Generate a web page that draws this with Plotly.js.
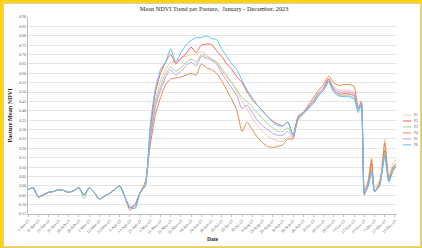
<!DOCTYPE html>
<html><head><meta charset="utf-8">
<script src="https://cdn.plot.ly/plotly-3.0.1.min.js"></script>
<style>
html,body{margin:0;padding:0;background:#FFD400;width:422px;height:248px;overflow:hidden;}
#frame{position:absolute;left:3px;top:3px;width:416px;height:242px;border:1px solid #D0D0D0;background:#fff;}
#chart{position:absolute;left:0;top:0;width:416px;height:242px;}
</style></head><body><div id="frame"><div id="chart"></div></div>
<script>
const dates = ['2023-01-01','2023-01-06','2023-01-11','2023-01-16','2023-01-21','2023-01-26','2023-01-31','2023-02-05','2023-02-10','2023-02-15','2023-02-20','2023-02-25','2023-03-02','2023-03-07','2023-03-12','2023-03-17','2023-03-22','2023-03-27','2023-04-01','2023-04-06','2023-04-11','2023-04-16','2023-04-21','2023-04-26',
'2023-05-01','2023-05-06','2023-05-11','2023-05-16','2023-05-21','2023-05-26','2023-05-31','2023-06-05','2023-06-10','2023-06-15','2023-06-20','2023-06-25','2023-06-30','2023-07-05','2023-07-10','2023-07-15','2023-07-20','2023-07-25','2023-07-30','2023-08-04','2023-08-09','2023-08-14','2023-08-19','2023-08-24','2023-08-29','2023-09-03','2023-09-08','2023-09-13','2023-09-18','2023-09-23','2023-09-28','2023-10-03','2023-10-08','2023-10-13','2023-10-18','2023-10-23','2023-10-28','2023-11-02','2023-11-07','2023-11-12','2023-11-17',
'2023-11-21','2023-11-24','2023-11-27','2023-12-01','2023-12-04','2023-12-07','2023-12-12','2023-12-14','2023-12-17','2023-12-21','2023-12-25','2023-12-28'];

const P1 = [-0.02,-0.01,-0.06,-0.05,-0.035,-0.03,-0.02,-0.025,-0.035,-0.025,-0.01,-0.05,-0.01,-0.035,-0.07,-0.055,-0.04,-0.02,0.00,-0.06,-0.115,-0.10,-0.035,0.01,
0.28,0.46,0.56,0.62,0.66,0.66,0.68,0.69,0.70,0.70,0.715,0.70,0.67,0.66,0.63,0.59,0.55,0.50,0.45,0.41,0.36,0.32,0.29,0.265,0.25,0.24,0.235,0.26,0.26,0.36,0.39,0.42,0.46,0.50,0.53,0.57,0.53,0.51,0.51,0.51,0.50,
0.42,0.45,-0.03,0.04,0.15,-0.01,0.03,0.09,0.25,0.05,0.12,0.14];
const P2 = [-0.02,-0.01,-0.06,-0.045,-0.035,-0.03,-0.02,-0.025,-0.035,-0.025,-0.01,-0.05,-0.01,-0.035,-0.07,-0.055,-0.04,-0.02,0.00,-0.06,-0.115,-0.12,-0.035,0.00,
0.30,0.50,0.60,0.66,0.70,0.65,0.68,0.705,0.74,0.71,0.75,0.755,0.755,0.72,0.69,0.65,0.62,0.58,0.55,0.50,0.46,0.43,0.40,0.37,0.345,0.33,0.32,0.34,0.27,0.37,0.39,0.42,0.45,0.49,0.52,0.57,0.51,0.49,0.49,0.49,0.48,
0.41,0.44,-0.04,0.02,0.12,-0.03,0.01,0.07,0.19,0.03,0.09,0.11];
const P3 = [-0.02,-0.01,-0.06,-0.05,-0.035,-0.03,-0.02,-0.025,-0.035,-0.025,-0.01,-0.07,-0.01,-0.035,-0.07,-0.055,-0.04,-0.02,0.00,-0.06,-0.115,-0.10,-0.035,0.00,
0.27,0.44,0.53,0.60,0.635,0.61,0.63,0.655,0.675,0.66,0.70,0.69,0.68,0.66,0.62,0.58,0.55,0.51,0.47,0.45,0.42,0.39,0.36,0.33,0.31,0.29,0.29,0.31,0.27,0.35,0.38,0.41,0.44,0.48,0.51,0.55,0.50,0.48,0.48,0.48,0.47,
0.40,0.43,-0.04,0.01,0.09,-0.03,0.01,0.07,0.18,0.03,0.09,0.11];
const P4 = [-0.02,-0.01,-0.06,-0.05,-0.035,-0.03,-0.02,-0.025,-0.035,-0.025,-0.01,-0.05,-0.01,-0.035,-0.07,-0.055,-0.04,-0.02,0.00,-0.06,-0.13,-0.10,-0.035,0.02,
0.22,0.38,0.47,0.54,0.57,0.575,0.58,0.59,0.60,0.59,0.65,0.63,0.62,0.60,0.56,0.51,0.46,0.40,0.29,0.34,0.30,0.26,0.23,0.21,0.205,0.21,0.22,0.25,0.25,0.37,0.39,0.43,0.47,0.51,0.54,0.585,0.55,0.535,0.54,0.54,0.53,
0.41,0.45,-0.05,0.03,0.14,-0.03,0.02,0.08,0.23,0.04,0.10,0.12];
const P5 = [-0.02,-0.01,-0.06,-0.05,-0.035,-0.03,-0.02,-0.025,-0.035,-0.025,-0.01,-0.05,-0.01,-0.035,-0.07,-0.055,-0.04,-0.02,0.00,-0.06,-0.115,-0.10,-0.035,0.00,
0.25,0.42,0.51,0.58,0.62,0.59,0.61,0.64,0.66,0.64,0.69,0.68,0.67,0.65,0.60,0.56,0.52,0.48,0.41,0.43,0.39,0.35,0.32,0.30,0.28,0.27,0.27,0.29,0.26,0.36,0.385,0.42,0.45,0.49,0.52,0.56,0.52,0.50,0.50,0.50,0.49,
0.41,0.44,-0.04,0.01,0.08,-0.03,0.00,0.06,0.16,0.02,0.08,0.10];
const P6 = [-0.02,-0.01,-0.06,-0.05,-0.035,-0.03,-0.02,-0.025,-0.035,-0.025,-0.01,-0.05,-0.01,-0.035,-0.07,-0.055,-0.04,-0.02,0.00,-0.06,-0.115,-0.12,-0.035,0.00,
0.33,0.52,0.62,0.66,0.73,0.66,0.71,0.75,0.775,0.79,0.79,0.80,0.785,0.78,0.73,0.69,0.65,0.62,0.56,0.51,0.47,0.43,0.40,0.37,0.34,0.32,0.32,0.34,0.27,0.36,0.39,0.41,0.44,0.48,0.51,0.56,0.50,0.48,0.475,0.475,0.46,
0.39,0.43,-0.04,0.00,0.07,-0.03,0.00,0.06,0.165,0.02,0.08,0.10];

const seriesNames = ['P1','P2','P3','P4','P5','P6'];
const seriesValues = [P1,P2,P3,P4,P5,P6];
const seriesColors = ['#F8C9A8','#FF5A55','#A8D38D','#E3884E','#C197F6','#55C6F5'];
const tickDates = [];
for (let d = new Date(Date.UTC(2023,0,1)); d <= new Date(Date.UTC(2023,11,27)); d = new Date(d.getTime()+10*86400000)) {
  tickDates.push(d.toISOString().slice(0,10));
}

const serif = 'Liberation Serif, Times New Roman, serif';
const traces = seriesNames.map((n,i)=>({
  x: dates, y: seriesValues[i], name: n, type:'scatter', mode:'lines',
  line:{color:seriesColors[i], width:1, shape:'spline', smoothing:0.5},
  showlegend:false
}));

const shapes = [], annotations = [];
const legTop = 0.5025, legStep = 6/198;
seriesNames.forEach((n,i)=>{
  const yy = legTop - i*legStep;
  shapes.push({type:'line', xref:'paper', yref:'paper', x0:1.0163, x1:1.038, y0:yy, y1:yy, line:{color:seriesColors[i], width:1}});
  annotations.push({xref:'paper', yref:'paper', x:1.0407, y:yy, text:n, showarrow:false, xanchor:'left', yanchor:'middle', font:{family:serif, size:3.8, color:'#595959'}});
});

const layout = {
  width:416, height:242,
  margin:{l:24, r:23, t:12.5, b:31.5, pad:0},
  paper_bgcolor:'#fff', plot_bgcolor:'#fff',
  title:{text:'Mean NDVI Trend per Pasture,  January - December, 2023', font:{family:serif, size:6.3, color:'#262626'}, x:0.505, xref:'container', y:0.979, yref:'container', yanchor:'middle'},
  xaxis:{type:'date', range:['2023-01-01','2023-12-29'], tickvals:tickDates, tickformat:'%-d-%b-%y', tickangle:-45,
    tickfont:{family:serif, size:4.1, color:'#595959'}, showline:true, linecolor:'#BFBFBF', linewidth:1,
    ticks:'outside', ticklen:2, tickcolor:'#BFBFBF', showgrid:false, zeroline:false,
    title:{text:'<b>Date</b>', font:{family:serif, size:5.6, color:'#262626'}, standoff:3}},
  yaxis:{range:[-0.15,0.90], tick0:0, dtick:0.05, tickformat:'.2f', showgrid:true, gridcolor:'#E6E6E6', gridwidth:1,
    showline:true, linecolor:'#BFBFBF', linewidth:1, zeroline:false, ticks:'',
    tickfont:{family:serif, size:4.0, color:'#595959'},
    title:{text:'<b>Pasture Mean NDVI</b>', font:{family:serif, size:6.2, color:'#262626'}, standoff:3}},
  shapes: shapes, annotations: annotations
};
Plotly.newPlot('chart', traces, layout, {displayModeBar:false, staticPlot:true});
</script></body></html>
